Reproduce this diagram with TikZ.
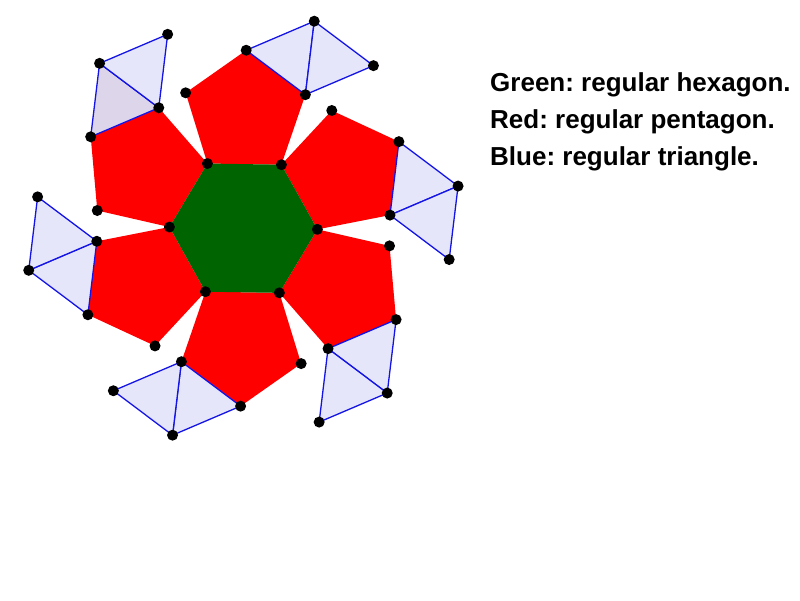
\documentclass[tikz,border=0pt]{standalone}
\usepackage{fontspec}
\setmainfont{Liberation Sans}
\frenchspacing
\definecolor{hexgreen}{RGB}{0,100,0}
\definecolor{pentred}{RGB}{255,0,0}
\definecolor{trifill}{RGB}{230,230,250}
\definecolor{trifilldark}{RGB}{221,214,234}
\definecolor{triedge}{RGB}{20,20,230}
\tikzset{
  pentfill/.style={fill=pentred},
  hexfill/.style={fill=hexgreen},
  tri/.style={fill=#1, draw=triedge, line width=1.3pt, line join=round},
  vdot/.style={fill=black},
  legend/.style={anchor=base west, font=\fontsize{26}{30}\selectfont\bfseries\frenchspacing, inner sep=0pt}
}
\begin{document}
\begin{tikzpicture}[x=1pt,y=-1pt]
\useasboundingbox (0,0) rectangle (800,601);
% pentagons
\foreach \k in {0,...,5}{
  \begin{scope}[shift={(243.4,228.2)}, rotate=-0.9-60*\k]
    \coordinate (A\k) at (-37,-64.09);
    \coordinate (B\k) at (37,-64.09);
    \coordinate (C\k) at (59.87,-134.47);
    \coordinate (D\k) at (0,-177.97);
    \coordinate (E\k) at (-59.87,-134.47);
    \coordinate (T\k) at (67.6,-208.07);
    \coordinate (U\k) at (127.47,-164.57);
    \fill[pentfill] (A\k) -- (B\k) -- (C\k) -- (D\k) -- (E\k) -- cycle;
  \end{scope}
}
% hexagon
\fill[hexfill] (A0) -- (A1) -- (A2) -- (A3) -- (A4) -- (A5) -- cycle;
% triangles
\foreach \k in {0,...,5}{
  \ifnum\k=5
    \filldraw[tri=trifilldark] (C\k) -- (D\k) -- (T\k) -- cycle;
  \else
    \filldraw[tri=trifill] (C\k) -- (D\k) -- (T\k) -- cycle;
  \fi
  \filldraw[tri=trifill] (C\k) -- (T\k) -- (U\k) -- cycle;
}
% dots
\foreach \k in {0,...,5}{
  \foreach \p in {A,C,D,E,T,U}{
    \fill[vdot] (\p\k) circle[radius=5.5];
  }
}
% legend
\node[legend] (g) at (490,92) {Green: regular hexagon.};
\node[legend] (r) at (490,129) {Red: regular pentagon.};
\node[legend] (b) at (490,165.8) {Blue: regular triangle.};
\end{tikzpicture}
\end{document}
